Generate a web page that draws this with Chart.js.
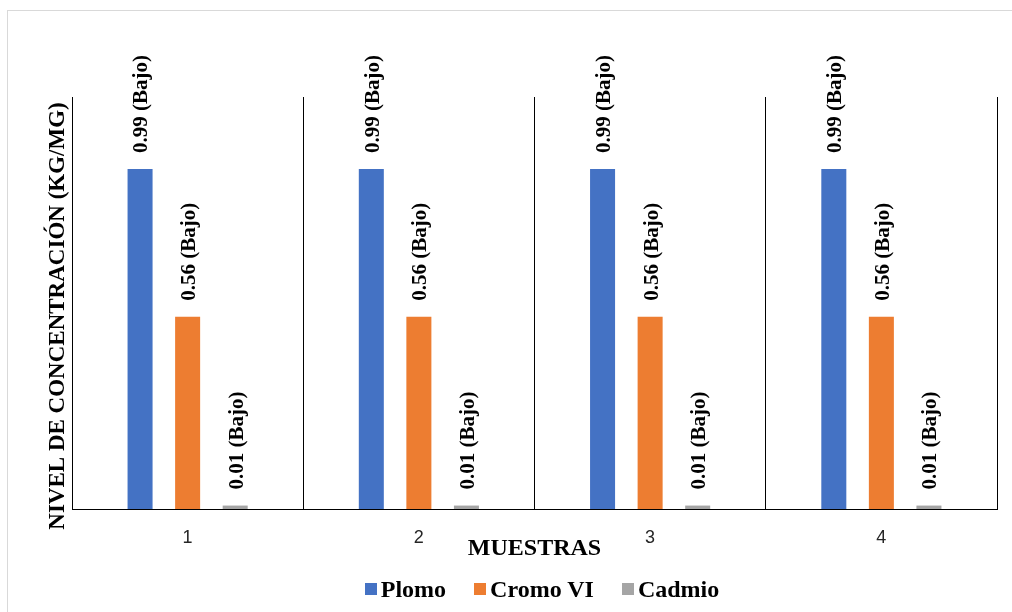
<!DOCTYPE html>
<html lang="es">
<head>
<meta charset="utf-8">
<title>Nivel de concentración por muestra</title>
<script src="https://cdn.jsdelivr.net/npm/chart.js@4.4.1/dist/chart.umd.min.js"></script>
<style>
    html, body { margin: 0; padding: 0; background: #fff; overflow: hidden; }
    .chart-wrap { position: relative; width: 1012px; height: 612px; }
    .frame { position: absolute; left: 7px; top: 10px; width: 1020px; height: 620px; border: 1px solid #d9d9d9; box-sizing: border-box; }
    canvas { position: absolute; left: 0; top: 0; }
    .legend { position: absolute; left: 72px; right: 0; top: 575px; height: 28px; display: flex; justify-content: center; align-items: center; font: bold 24px "Liberation Serif", "Times New Roman", serif; color: #000; }
    .legend .item { display: flex; align-items: center; margin: 0 14px; }
    .legend .box { width: 12px; height: 12px; margin-right: 4px; }
</style>
</head>
<body>
<div class="chart-wrap">
    <div class="frame"></div>
    <canvas id="muestrasChart" width="1012" height="612"></canvas>
    <div class="legend" id="legend"></div>
</div>
<script>
// Data
const muestras = ['1', '2', '3', '4'];
const series = ['Plomo', 'Cromo VI', 'Cadmio'];
const colores = ['#4472C4', '#ED7D31', '#A5A5A5'];
const plomo = [0.99, 0.99, 0.99, 0.99];
const cromoVI = [0.56, 0.56, 0.56, 0.56];
const cadmio = [0.01, 0.01, 0.01, 0.01];
const niveles = ['Bajo', 'Bajo', 'Bajo'];

const serifBold = { family: '"Liberation Serif", "Times New Roman", serif', weight: 'bold' };

// Rotated value labels above each bar
const barLabels = {
    id: 'barLabels',
    afterDatasetsDraw(chart) {
        const ctx = chart.ctx;
        ctx.save();
        ctx.font = 'bold 21px "Liberation Serif", "Times New Roman", serif';
        ctx.fillStyle = '#000';
        ctx.textAlign = 'left';
        ctx.textBaseline = 'middle';
        chart.data.datasets.forEach((ds, i) => {
            chart.getDatasetMeta(i).data.forEach((bar, j) => {
                ctx.save();
                ctx.translate(bar.x + 2, bar.y - 16);
                ctx.rotate(-Math.PI / 2);
                ctx.fillText(ds.data[j].toFixed(2) + ' (' + niveles[i] + ')', 0, 0);
                ctx.restore();
            });
        });
        ctx.restore();
    }
};

// Y axis title
const yTitle = {
    id: 'yTitle',
    afterDraw(chart) {
        const ctx = chart.ctx;
        const area = chart.chartArea;
        ctx.save();
        ctx.font = 'bold 23px "Liberation Serif", "Times New Roman", serif';
        ctx.fillStyle = '#000';
        ctx.textAlign = 'center';
        ctx.textBaseline = 'middle';
        ctx.translate(area.left - 14, (area.top + area.bottom) / 2 + 13);
        ctx.rotate(-Math.PI / 2);
        ctx.fillText('NIVEL DE CONCENTRACIÓN (KG/MG)', 0, 0);
        ctx.restore();
    }
};

const datasets = [plomo, cromoVI, cadmio].map((values, i) => ({
    label: series[i],
    data: values,
    backgroundColor: colores[i],
    categoryPercentage: 0.617,
    barPercentage: 0.526
}));

const ctx = document.getElementById('muestrasChart').getContext('2d');
const muestrasChart = new Chart(ctx, {
    type: 'bar',
    data: { labels: muestras, datasets: datasets },
    options: {
        responsive: false,
        animation: false,
        layout: { padding: { top: 97, right: 15, bottom: 49, left: 0 } },
        plugins: {
            legend: { display: false },
            tooltip: { enabled: false }
        },
        scales: {
            x: {
                grid: { color: '#000', lineWidth: 1, drawTicks: false, offset: true },
                border: { color: '#000', width: 1 },
                ticks: { color: '#262626', padding: 18, font: { family: '"Liberation Sans", Arial, sans-serif', size: 18 } },
                title: { display: true, text: 'MUESTRAS', color: '#000', padding: 0, font: { ...serifBold, size: 24 } },
                afterFit(scale) { scale.height = 54; }
            },
            y: {
                min: 0,
                max: 1.2,
                grid: { display: false },
                border: { color: '#000', width: 1 },
                ticks: { display: false },
                afterFit(scale) { scale.width = 72; }
            }
        }
    },
    plugins: [barLabels, yTitle]
});

// Legend
const legend = document.getElementById('legend');
series.forEach((name, i) => {
    const item = document.createElement('div');
    item.className = 'item';
    item.innerHTML = '<span class="box" style="background:' + colores[i] + '"></span><span>' + name + '</span>';
    legend.appendChild(item);
});
</script>
</body>
</html>
